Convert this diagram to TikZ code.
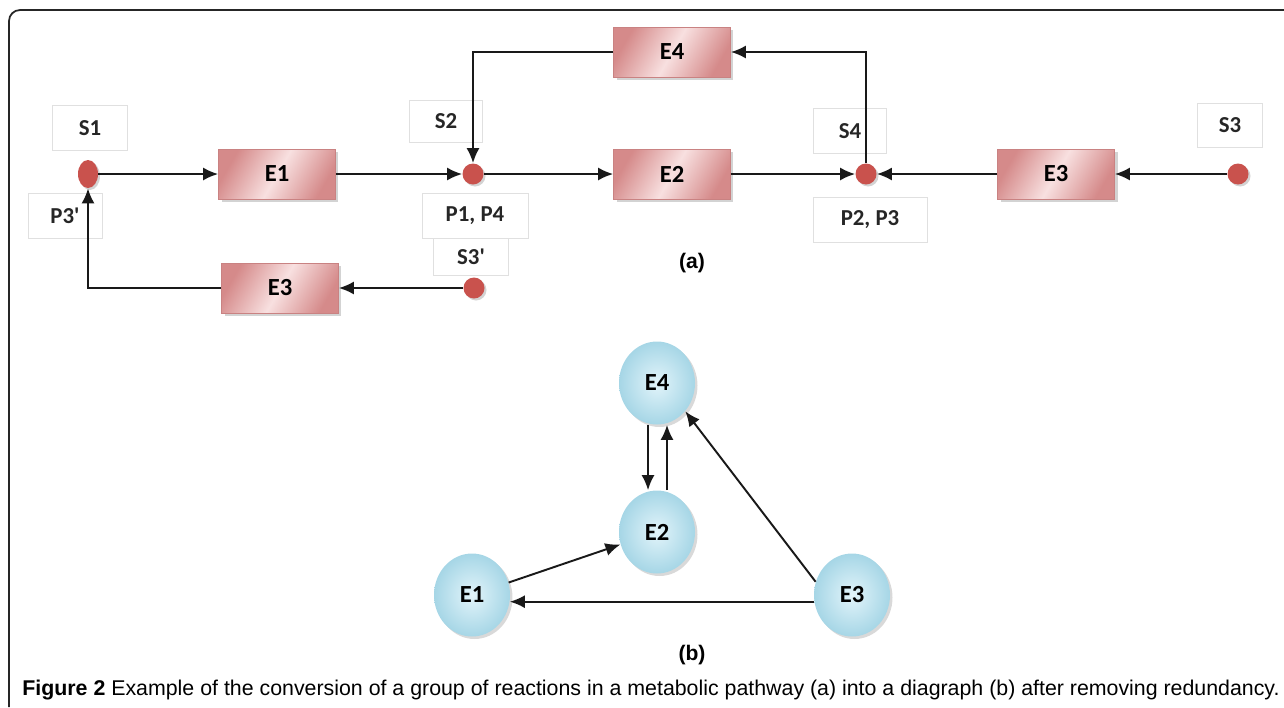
\documentclass[tikz,border=0pt]{standalone}
\usepackage{fontspec}
\setmainfont{Liberation Sans}
\newfontfamily\lblfont{Carlito}
\usetikzlibrary{arrows.meta,shadows,shapes.geometric}
\definecolor{enzlight}{HTML}{F8E0E0}
\definecolor{enzdark}{HTML}{D58A8A}
\definecolor{enzedge}{HTML}{C98282}
\definecolor{dotred}{HTML}{C9524D}
\definecolor{balllight}{HTML}{E2F4FA}
\definecolor{balldark}{HTML}{A6D6E6}
\newcommand{\rowA}{174}
\newcommand{\rowB}{288}

\begin{document}
\begin{tikzpicture}[x=0.02cm,y=-0.02cm,
    enz/.style={rectangle, draw=enzedge, line width=0.4pt,
        left color=enzdark, right color=enzdark, middle color=enzlight, shading angle=60,
        minimum width=2.34cm, minimum height=1cm, inner sep=0pt,
        drop shadow={shadow xshift=0.06cm, shadow yshift=-0.06cm, opacity=0.35},
        font=\lblfont\bfseries\fontsize{14}{16}\selectfont},
    met/.style={circle, fill=dotred, minimum size=0.42cm, inner sep=0pt,
        drop shadow={shadow xshift=0.04cm, shadow yshift=-0.04cm, opacity=0.35}},
    lbl/.style={rectangle, draw=black!12, line width=0.5pt, inner sep=0pt,
        text=black!85, font=\lblfont\bfseries\fontsize{13}{15}\selectfont},
    ball/.style={ellipse, inner color=balllight, outer color=balldark,
        minimum width=1.52cm, minimum height=1.66cm, inner sep=0pt,
        drop shadow={shadow xshift=0.05cm, shadow yshift=-0.05cm, opacity=0.3},
        font=\lblfont\bfseries\fontsize{14}{16}\selectfont},
    arr/.style={-{Latex[length=0.3cm,width=0.26cm]}, line width=1.1pt, black!90},
    tag/.style={font=\bfseries\fontsize{12}{14}\selectfont}]

    \useasboundingbox (0,0) rectangle (1284,707);

    % Frame
    \draw[line width=1pt, black!85, rounded corners=0.22cm] (9,707) -- (9,10) -- (1284,10);

    % Label boxes of part (a)
    \node[lbl, minimum width=1.5cm, minimum height=0.9cm] (s1lbl) at (90,128) {S1};
    \node[lbl, minimum width=1.46cm, minimum height=0.84cm] (s2lbl) at (446,121) {S2};
    \node[lbl, minimum width=1.46cm, minimum height=0.9cm] (s4lbl) at (850,131) {S4};
    \node[lbl, minimum width=1.3cm, minimum height=0.88cm] (s3lbl) at (1230,125) {S3};
    \node[lbl, minimum width=1.48cm, minimum height=0.9cm] (p3lbl) at (65,216) {P3'};
    \node[lbl, minimum width=2.12cm, minimum height=0.9cm] (p14lbl) at (475,216) {P1, P4};
    \node[lbl, minimum width=1.5cm, minimum height=0.74cm] (s3plbl) at (471,257) {S3'};
    \node[lbl, minimum width=2.28cm, minimum height=0.9cm] (p23lbl) at (870,220) {P2, P3};

    % Metabolites
    \node[met, ellipse, minimum width=0.4cm, minimum height=0.56cm] (s1) at (88,\rowA) {};
    \node[met] (s2) at (473,\rowA) {};
    \node[met] (s4) at (866,\rowA) {};
    \node[met] (s3) at (1238,\rowA) {};
    \node[met] (s3p) at (474,\rowB) {};

    % Enzymes
    \node[enz] (e1) at (277,\rowA) {E1};
    \node[enz] (e2) at (672,\rowA) {E2};
    \node[enz] (e3) at (1056,\rowA) {E3};
    \node[enz] (e4) at (672,52) {E4};
    \node[enz] (e3b) at (280,\rowB) {E3};

    % Reactions
    \draw[arr] (s1) -- (e1);
    \draw[arr] (e1) -- (s2);
    \draw[arr] (s2) -- (e2);
    \draw[arr] (e2) -- (s4);
    \draw[arr] (e3) -- (s4);
    \draw[arr] (s3) -- (e3);
    \draw[arr] (s4.north) |- (e4.east);
    \draw[arr] (e4.west) -| (s2.north);
    \draw[arr] (s3p) -- (e3b);
    \draw[arr] (e3b.west) -| (s1.south);

    \node[tag] (taga) at (692,263) {(a)};

    % Diagraph of part (b)
    \node[ball] (b4) at (657,383) {E4};
    \node[ball] (b2) at (657,532) {E2};
    \node[ball] (b1) at (472,595) {E1};
    \node[ball] (b3) at (852,595) {E3};

    \draw[arr] ([xshift=-0.18cm]b4.south) -- ([xshift=-0.18cm]b2.north);
    \draw[arr] ([xshift=0.2cm]b2.north) -- ([xshift=0.2cm]b4.south);
    \draw[arr] (b1) -- (b2);
    \draw[arr] (b3.160) -- (b4.-45);
    \draw[arr] (b3.190) -- (b1.-10);

    \node[tag] (tagb) at (692,655) {(b)};

    % Caption
    \node[anchor=west, inner sep=0pt, font=\fontsize{12.15}{14}\selectfont] (cap) at (22,690)
        {\textbf{Figure 2} Example of the conversion of a group of reactions in a metabolic pathway (a) into a diagraph (b) after removing redundancy.};
\end{tikzpicture}
\end{document}
